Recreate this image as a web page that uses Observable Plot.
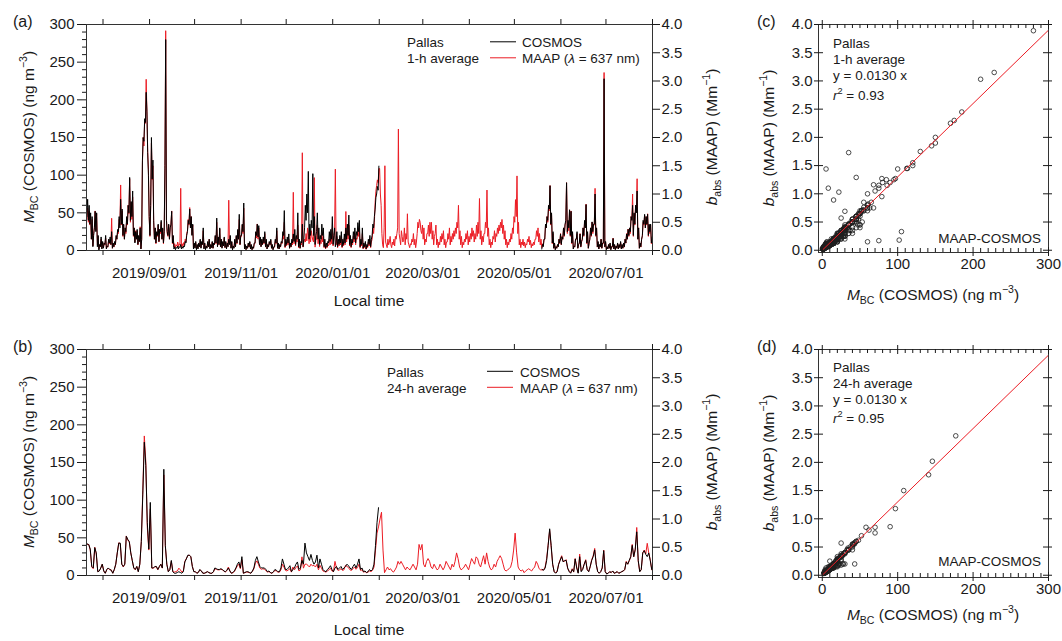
<!DOCTYPE html>
<html><head><meta charset="utf-8">
<script src="https://cdn.jsdelivr.net/npm/d3@7"></script>
<script src="https://cdn.jsdelivr.net/npm/@observablehq/plot@0.6"></script>
<style>
body{margin:0;background:#fff;}
#wrap{position:relative;width:1062px;height:641px;overflow:hidden;background:#fff;}
#wrap svg{position:absolute;}
</style></head><body><div id="wrap"></div>
<script>
// ---------------- DATA ----------------
const seriesStart = "2019-07-21";
const seriesEnd = "2020-08-01";
const cosmosSeg2Start = "2020-05-19";
const monthTicks = ["2019-08-01","2019-09-01","2019-10-01","2019-11-01","2019-12-01","2020-01-01","2020-02-01","2020-03-01","2020-04-01","2020-05-01","2020-06-01","2020-07-01","2020-08-01"];
const dateLabels = ["2019-09-01","2019-11-01","2020-01-01","2020-03-01","2020-05-01","2020-07-01"];
const mbcTicks = [0,50,100,150,200,250,300];
const mbcMinorTicks = [10,20,30,40,60,70,80,90,110,120,130,140,160,170,180,190,210,220,230,240,260,270,280,290];
const babsTicks = [0,0.5,1,1.5,2,2.5,3,3.5,4];
const scatterXTicks = [0,100,200,300];
const scatterXMinor = [10,20,30,40,50,60,70,80,90,110,120,130,140,150,160,170,180,190,210,220,230,240,250,260,270,280,290];
const babsPerMbc = 4/300;   // right axis 4.0 Mm-1 <-> left axis 300 ng m-3
const fitSlope = 0.0130;
const fitR2 = {h1: "0.93", h24: "0.95"};

// COSMOS 1-h (ng m-3), two values per day, 2019-07-21 .. 2020-01-31
const cosmos1hSeg1 = [
 45,68, 40,60, 35,50, 15,45, 5,20,   30,52, 25,50, 5,20, 0,8, 5,18,
 2,12, 3,10, 8,20, 2,6, 5,15,        10,18, 8,25, 3,10, 5,12, 8,20,
 15,28, 25,45, 30,68, 35,55, 20,35,  15,30, 25,45, 35,60, 50,97, 40,65,
 45,79, 20,30, 10,25, 15,28, 8,20,   12,30, 2,15, 120,150, 145,175, 170,210,
 185,130, 100,45, 20,60, 150,95, 120,40,  15,30, 10,25, 20,35, 12,28, 25,40,
 15,30, 10,25, 113,280, 40,25, 20,35,     15,30, 35,52, 10,20, 2,5, 1,4,
 3,6, 2,5, 4,8, 2,5, 3,6,            5,12, 10,20, 25,40, 35,55, 30,45,
 20,35, 2,10, 3,12, 1,8, 2,10,       5,15, 3,12, 8,30, 2,10, 1,6,
 3,12, 5,15, 2,8, 4,12, 3,10,        8,20, 10,43, 5,18, 8,30, 5,15,
 3,12, 6,18, 4,12, 2,10, 5,15,       8,20, 3,12, 1,6, 3,15, 5,20,
 10,28, 15,48, 8,20, 20,35, 25,63,   2,8, 1,6, 3,10, 5,12, 2,8,
 1,5, 3,10, 10,25, 20,35, 18,33,     8,18, 5,15, 8,18, 10,25, 5,15,
 2,8, 5,12, 8,15, 3,8, 1,5,          5,15, 10,30, 3,10, 2,8, 5,12,
 10,25, 20,53, 5,15, 8,18, 10,22,    3,10, 5,15, 10,22, 12,28, 8,20,
 15,50, 5,15, 3,12, 10,35, 5,15,     30,60, 40,75, 50,105, 15,35, 20,40,
 30,102, 20,45, 8,20, 25,50, 15,30,  8,20, 15,35, 20,30, 5,15, 3,10,
 5,12, 10,25, 12,28, 15,45, 8,20,    30,5, 10,25, 5,15, 8,20, 10,25,
 5,15, 8,22, 10,30, 15,35, 20,47,    8,20, 5,15, 10,25, 15,30, 10,25,
 20,37, 25,40, 5,15, 8,30, 3,10,     5,12, 2,8, 5,15, 8,20, 5,15,
 20,35, 30,45, 55,70, 75,85, 80,112
];
// COSMOS 1-h, 2020-05-19 .. 2020-07-31
const cosmos1hSeg2 = [
 2,8, 5,15, 15,35, 30,45, 40,60, 55,86, 35,50,
 10,25, 3,10, 1,5, 3,8, 5,15,        10,22, 8,18, 15,30, 20,35, 40,90,
 25,40, 30,54, 20,52, 10,25, 2,6,    5,15, 15,25, 3,8, 10,22, 5,12,
 15,30, 20,40, 30,61, 10,25, 3,10,   15,30, 20,38, 25,35, 35,75, 20,30,
 5,12, 2,8, 5,15, 3,10, 10,228,      5,12, 1,5, 2,8, 3,10, 1,5,
 5,16, 2,8, 1,6, 3,10, 2,8,          4,12, 2,8, 3,10, 5,15, 10,22,
 15,28, 20,30, 25,45, 40,60, 20,50,  35,60, 50,79, 15,30, 3,10, 5,15,
 20,40, 35,48, 30,45, 35,48, 20,35,  25,35, 10,18
];
// MAAP 1-h b_abs (Mm-1), two values per day, 2019-07-21 .. 2020-07-31
const maap1h = [
 .55,.75, .5,.7, .45,.6, .2,.55, .08,.3,     .4,.7, .35,.65, .1,.25, .03,.1, .07,.2,
 .04,.15, .05,.12, .1,.22, .03,.08, .06,.18, .12,.2, .1,.57, .04,.12, .06,.15, .1,.25,
 .2,.35, .3,.55, .45,1.16, .45,.7, .25,.45,  .2,.4, .3,.55, .45,.8, .65,1.27, .5,.85,
 .55,.95, .25,.4, .15,.35, .2,.35, .1,.25,   .15,.42, .03,.2, 1.55,2.0, 1.85,2.3, 2.25,3.03,
 2.45,1.75, 1.44,.6, .25,.75, 1.9,1.25, 1.5,.5,  .2,.4, .12,.32, .25,.45, .15,.38, .3,.5,
 .2,.38, .12,.3, 1.45,3.89, .55,.3, .25,.45, .2,.4, .45,.7, .12,.25, .06,.12, .05,.1,
 .08,.15, .07,.12, .1,1.1, .06,.12, .07,.14, .1,.2, .15,.3, .35,.55, .45,.76, .4,.6,
 .28,.45, .03,.12, .05,.14, .03,.1, .04,.12, .07,.18, .05,.15, .1,.35, .04,.12, .03,.08,
 .05,.15, .07,.2, .04,.1, .05,.15, .04,.12,  .1,.25, .12,.5, .07,.22, .1,.38, .07,.2,
 .05,.15, .08,.22, .05,.15, .04,.12, .07,.89, .1,.25, .05,.15, .02,.08, .05,.18, .07,.25,
 .12,.35, .2,.55, .1,.25, .25,.45, .3,.75,   .03,.1, .02,.08, .04,.12, .06,.15, .03,.1,
 .02,.06, .04,.12, .12,.32, .22,.47, .2,.4,  .1,.22, .07,.18, .1,.2, .12,.3, .06,.18,
 .03,.1, .06,.15, .1,.18, .04,.1, .02,.06,   .06,.18, .12,.35, .04,.12, .03,.1, .06,.15,
 .12,.3, .2,.5, .05,.15, .08,.18, .1,.2,     .04,.1, .06,.15, .1,1.03, .12,.25, .08,.2,
 .15,.45, .05,.15, .04,.12, .1,1.73, .06,.15, .2,.15, .3,.17, .4,.33, .12,.3, .15,.35,
 .25,.18, .15,1.29, .06,.18, .2,.45, .12,.25, .07,.18, .12,.3, .15,.25, .05,.12, .03,.08,
 .05,.1, .08,.2, .1,.25, .12,.4, .08,.2,     .35,1.44, .1,.25, .05,.15, .08,.2, .1,.25,
 .05,.15, .08,.22, .1,.69, .15,.35, .2,.45,  .08,.2, .05,.15, .1,.25, .15,.3, .1,.22,
 .2,.35, .25,.4, .05,.12, .08,.3, .03,.1,    .05,.12, .02,.08, .05,.15, .08,.2, .05,.15,
 .2,.4, .3,.5, .85,1.05, 1.15,1.25, 1.2,1.45, 1.45,1.0, .8,.3, .1,.05, .4,1.5, .15,.1,
 .05,.2, .1,.15, .25,.1, .05,.15, .1,.2,     .08,.25, .2,.3, .4,2.15, .3,.2, .1,.35,
 .25,.15, .2,.4, .1,.3, .2,.65, .15,.1,      .05,.12, .1,.2, .15,.3, .1,.2, .05,.15,
 .3,.5, .4,.55, .5,.35, .3,.45, .2,.4,       .1,.2, .15,.3, .3,.45, .25,.5, .3,.5,
 .2,.35, .1,.25, .3,.45, .1,.2, .05,.15,     .1,.25, .15,.3, .2,.35, .1,.2, .05,.15,
 .15,.3, .2,.4, .1,.25, .15,.3, .2,.35,      .25,.4, .3,.5, .4,.8, .2,.35, .1,.25,
 .05,.15, .1,.2, .15,.3, .2,.35, .1,.25,     .15,.3, .2,.4, .25,.35, .15,.3, .2,.45,
 .25,.5, .3,.92, .2,.35, .1,.25, .15,.3,     .3,.5, .4,1.07, .25,.4, .1,.2, .05,.15,
 .1,.25, .2,.35, .15,.3, .25,.4, .3,.45,     .35,.5, .4,.55, .3,.45, .2,.35, .1,.2,
 .05,.15, .1,.2, .15,.3, .2,.4, .3,.6,       .5,.9, .6,1.32, .3,.5, .1,.2, .05,.15,
 .1,.2, .08,.15, .05,.12, .1,.2, .15,.25,    .1,.18, .05,.12, .08,.15, .1,.2, .2,.35,
 .25,.4, .15,.3, .1,.2, .05,.12, .08,.2,     .2,.45, .4,.6, .5,.75, .7,1.15, .45,.65,
 .12,.3, .04,.12, .02,.07, .04,.1, .07,.2,   .12,.3, .1,.25, .2,.4, .25,.45, .5,1.2,
 .3,.5, .35,.72, .25,.7, .12,.3, .03,.08,    .06,.2, .2,.3, .04,.1, .12,.3, .06,.15,
 .2,.4, .25,.5, .4,.82, .12,.3, .04,.12,     .2,.4, .25,.5, .3,.45, .45,1.1, .25,.4,
 .06,.15, .03,.1, .06,.2, .04,.12, .12,3.15, .06,.15, .02,.06, .03,.1, .04,.12, .02,.07,
 .06,.22, .03,.1, .02,.08, .04,.12, .03,.1,  .05,.15, .03,.1, .04,.12, .06,.2, .13,.3,
 .2,.38, .25,.4, .3,.6, .55,1.0, .25,.65,    .45,.8, .7,1.27, .2,.4, .04,.12, .06,.2,
 .25,.5, .45,.62, .4,.6, .45,.65, .25,.45,   .3,.45, .12,.2
];
// COSMOS 24-h (ng m-3), daily, 2019-07-21 .. 2020-01-31
const cosmos24hSeg1 = [
 42,41,35,12,10,37,30,5,6,10,  15,6,3,8,10,8,7,3,8,15,  30,43,43,15,12,15,52,48,45,30,
 20,10,8,12,5,15,45,108,177,146,  70,35,97,10,10,12,12,8,12,15,  10,141,40,15,5,8,20,5,3,3,
 4,5,4,3,5,18,22,27,27,25,  12,5,5,3,4,8,6,3,3,4,  5,4,3,3,5,10,9,8,8,9,
 8,6,5,7,10,6,3,4,6,10,  15,18,10,25,3,4,5,5,4,3,  6,10,20,25,18,12,10,10,10,8,
 5,6,4,3,5,8,7,5,5,10,  22,15,8,8,10,13,5,8,10,15,  18,8,10,20,15,43,30,25,20,28,
 20,15,18,27,10,22,15,8,6,5,  8,10,13,8,5,10,12,8,10,12,  8,10,12,15,13,10,8,12,15,10,
 15,22,8,10,5,6,4,5,8,6,  8,15,40,70,90
];
// COSMOS 24-h, 2020-05-19 .. 2020-07-31
const cosmos24hSeg2 = [
 8,7,10,20,40,62,40,  15,5,3,5,15,20,25,18,20,20,  10,5,3,8,5,22,10,3,25,5,
 8,15,20,8,5,12,20,25,34,15,  5,3,5,10,33,5,2,3,5,4,  6,3,4,5,3,4,5,6,8,18,
 15,20,25,40,25,35,58,20,5,8,  30,33,28,25,30,20,8
];
// MAAP 24-h b_abs (Mm-1), daily, 2019-07-21 .. 2020-07-31
const maap24h = [
 .55,.55,.45,.15,.12,.5,.38,.07,.08,.13,  .2,.08,.04,.1,.13,.1,.1,.04,.1,.2,
 .4,.58,.56,.2,.15,.2,.7,.62,.6,.4,  .26,.13,.1,.16,.07,.2,.6,1.5,2.47,2.02,
 .85,.45,1.18,.13,.13,.15,.16,.1,.15,.2,  .13,1.78,.52,.2,.07,.1,.25,.07,.06,.07,
 .08,.13,.1,.06,.08,.25,.3,.35,.36,.33,  .16,.07,.07,.04,.06,.1,.08,.04,.04,.05,
 .07,.05,.04,.04,.06,.12,.11,.1,.1,.11,  .1,.08,.06,.09,.15,.08,.04,.05,.07,.12,
 .17,.2,.12,.28,.04,.05,.06,.06,.05,.04,  .07,.12,.22,.26,.2,.13,.11,.12,.11,.09,
 .06,.07,.05,.04,.06,.09,.08,.06,.06,.1,  .2,.15,.09,.08,.1,.12,.06,.15,.1,.14,
 .17,.08,.1,.33,.13,.2,.2,.18,.15,.2,  .17,.18,.15,.2,.1,.18,.13,.08,.07,.06,
 .08,.1,.13,.08,.07,.25,.13,.09,.1,.12,  .09,.1,.18,.16,.14,.1,.09,.12,.15,.11,
 .14,.2,.09,.1,.06,.07,.05,.06,.08,.07,  .09,.15,.45,.75,.86,1.0,1.12,.45,.05,.1,
 .15,.1,.12,.08,.06,.1,.15,.25,.2,.25,  .2,.15,.1,.15,.12,.1,.15,.2,.15,.1,
 .2,.55,.45,.55,.2,.15,.25,.3,.25,.15,  .12,.2,.15,.1,.12,.2,.15,.1,.15,.25,
 .2,.15,.1,.2,.15,.25,.4,.3,.15,.1,  .12,.15,.2,.15,.1,.2,.3,.25,.2,.33,
 .3,.2,.15,.25,.35,.2,.4,.25,.15,.1,  .12,.2,.15,.25,.3,.35,.3,.2,.1,.08,
 .1,.12,.15,.25,.45,.75,.4,.15,.1,.08,  .1,.05,.08,.1,.12,.1,.08,.12,.15,.25,
 .2,.12,.1,.1,.1,.15,.3,.55,.8,.5,  .2,.07,.05,.08,.2,.28,.35,.25,.25,.28,
 .12,.08,.05,.12,.06,.3,.15,.05,.38,.08,  .12,.2,.28,.1,.07,.15,.28,.35,.48,.2,
 .07,.04,.07,.13,.45,.07,.03,.04,.07,.05,  .08,.04,.05,.07,.04,.05,.07,.08,.1,.25,
 .2,.26,.32,.55,.33,.45,.85,.25,.07,.1,  .4,.45,.38,.57,.4,.28,.1
];

// ---------------- BUILD ----------------
const FONT = '"Liberation Sans", Arial, Helvetica, sans-serif';
const INK = "#1a1a1a";
const RED = "#ec1c24";
const DAY = 864e5;
const t0 = Date.parse(seriesStart);
const xDomain = [new Date(seriesStart), new Date(seriesEnd)];
const toDate = s => new Date(s);

function halfDayRows(values, startISO, seg) {
  const s = Date.parse(startISO), k0 = Math.round((s - t0) / DAY) * 2;
  return values.map((v, i) => ({t: new Date(s + (i + 0.5) * DAY / 2), v, seg, k: k0 + i}));
}
function dayRows(values, startISO, seg) {
  const s = Date.parse(startISO), k0 = Math.round((s - t0) / DAY);
  return values.map((v, i) => ({t: new Date(s + (i + 0.5) * DAY), v, seg, k: k0 + i}));
}
const c1h = [...halfDayRows(cosmos1hSeg1, seriesStart, 1), ...halfDayRows(cosmos1hSeg2, cosmosSeg2Start, 2)];
const m1h = halfDayRows(maap1h, seriesStart, 0);
const c24 = [...dayRows(cosmos24hSeg1, seriesStart, 1), ...dayRows(cosmos24hSeg2, cosmosSeg2Start, 2)];
const m24 = dayRows(maap24h, seriesStart, 0);
function pairs(cRows, mRows) {
  const mm = new Map(mRows.map(d => [d.k, d.v]));
  return cRows.filter(d => d.v != null && mm.get(d.k) != null).map(d => ({c: d.v, m: mm.get(d.k)}));
}

function rich(svg, x, y, parts, {size = 15, anchor = "start", rotate = 0} = {}) {
  const t = d3.select(svg).append("text")
    .attr("transform", `translate(${x},${y})` + (rotate ? ` rotate(${rotate})` : ""))
    .attr("text-anchor", anchor).attr("font-size", size).attr("fill", INK)
    .attr("font-family", FONT);
  let shift = 0;
  for (const p of parts) {
    const [s, kind] = Array.isArray(p) ? p : [p, ""];
    const target = kind === "sub" ? 0.28 * size : kind === "sup" ? -0.45 * size : 0;
    const ts = t.append("tspan").text(s).attr("dy", target - shift);
    shift = target;
    if (kind === "i") ts.attr("font-style", "italic");
    if (kind === "sub" || kind === "sup") ts.attr("font-size", size * 0.68);
  }
}
function hline(svg, x1, x2, y, color) {
  d3.select(svg).append("line").attr("x1", x1).attr("x2", x2).attr("y1", y).attr("y2", y)
    .attr("stroke", color).attr("stroke-width", 1);
}
const mbcTitle = [["M","i"],["BC","sub"]," (COSMOS) (ng m",["−3","sup"],")"];
const babsTitle = [["b","i"],["abs","sub"]," (MAAP) (Mm",["−1","sup"],")"];

function tsPanel({cosmos, maap, height, left, top, label, avgLabel, leg, timeY}) {
  const FH = 226, FW = 566;
  const svg = Plot.plot({
    width: 740, height, marginLeft: 86, marginRight: 88, marginTop: 24, marginBottom: height - 24 - FH,
    style: {fontFamily: FONT, fontSize: "15px", background: "transparent", color: INK, overflow: "visible"},
    x: {type: "utc", domain: xDomain, axis: null},
    y: {domain: [0, 300], axis: null},
    marks: [
      Plot.line(maap, {x: "t", y: d => d.v == null ? NaN : d.v / babsPerMbc, stroke: RED, strokeWidth: 1}),
      Plot.line(cosmos, {x: "t", y: "v", z: "seg", stroke: "#000", strokeWidth: 1}),
      Plot.frame({stroke: "#333", strokeWidth: 1}),
      Plot.ruleX(monthTicks.map(toDate), {stroke: INK, insetTop: FH, insetBottom: -5}),
      Plot.ruleX(monthTicks.map(toDate), {stroke: INK, insetTop: -5, insetBottom: FH}),
      Plot.ruleY(mbcTicks, {stroke: INK, insetLeft: -9, insetRight: FW}),
      Plot.ruleY(mbcMinorTicks, {stroke: INK, insetLeft: -4, insetRight: FW}),
      Plot.ruleY(babsTicks.map(v => v / babsPerMbc), {stroke: INK, insetLeft: FW, insetRight: -8}),
      Plot.axisX({ticks: dateLabels.map(toDate), tickSize: 0, tickPadding: 17, tickFormat: d3.utcFormat("%Y/%m/%d"), label: null}),
      Plot.axisY({anchor: "left", ticks: mbcTicks, tickSize: 0, tickPadding: 12, label: null}),
      Plot.axisY({anchor: "right", ticks: babsTicks.map(v => v / babsPerMbc), tickSize: 0, tickPadding: 9,
        tickFormat: d => (d * babsPerMbc).toFixed(1), label: null})
    ]
  });
  svg.style.left = left + "px"; svg.style.top = top + "px";
  rich(svg, 13, 27, [label], {size: 16});
  rich(svg, 33.5, 137, mbcTitle, {size: 15.5, anchor: "middle", rotate: -90});
  rich(svg, 717, 137, babsTitle, {size: 15.5, anchor: "middle", rotate: -90});
  rich(svg, 369, timeY, ["Local time"], {size: 15.5, anchor: "middle"});
  rich(svg, leg.tx, leg.y, ["Pallas"], {size: 13.5});
  rich(svg, leg.tx, leg.y + 16, [avgLabel], {size: 13.5});
  hline(svg, leg.lx1, leg.lx2, leg.y - 5.2, "#000");
  hline(svg, leg.lx1, leg.lx2, leg.y + 10.8, RED);
  rich(svg, leg.sx, leg.y, ["COSMOS"], {size: 13.5});
  rich(svg, leg.sx, leg.y + 16, ["MAAP (", ["λ", "i"], " = 637 nm)"], {size: 13.5});
  return svg;
}

function scatterPanel({data, height, left, top, label, avgLabel, r2, ann, titleY, r}) {
  const FH = 228, FW = 230;
  const svg = Plot.plot({
    width: 322, height, marginLeft: 78, marginRight: 14, marginTop: 24, marginBottom: height - 24 - FH,
    style: {fontFamily: FONT, fontSize: "15px", background: "transparent", color: INK, overflow: "visible"},
    x: {domain: [-5, 300], axis: null},
    y: {domain: [-0.04, 4.0], axis: null},
    marks: [
      Plot.dot(data, {x: "c", y: "m", r, stroke: "#1e1e1e", strokeWidth: 0.8, fill: "none"}),
      Plot.line([0, 300], {x: d => d, y: d => d * fitSlope, stroke: RED, strokeWidth: 1}),
      Plot.frame({stroke: "#333", strokeWidth: 1}),
      Plot.ruleX(scatterXMinor, {stroke: INK, insetTop: FH - 4, insetBottom: 0}),
      Plot.ruleX(scatterXMinor, {stroke: INK, insetTop: 0, insetBottom: FH - 4}),
      Plot.ruleX(scatterXTicks, {stroke: INK, insetTop: FH - 5, insetBottom: -4}),
      Plot.ruleX(scatterXTicks, {stroke: INK, insetTop: -4, insetBottom: FH - 5}),
      Plot.ruleY(babsTicks, {stroke: INK, insetLeft: -4, insetRight: FW - 5}),
      Plot.ruleY(babsTicks, {stroke: INK, insetLeft: FW - 5, insetRight: -4}),
      Plot.axisX({ticks: scatterXTicks, tickSize: 0, tickPadding: 6, label: null}),
      Plot.axisY({ticks: babsTicks, tickSize: 0, tickPadding: 6, tickFormat: d => d.toFixed(1), label: null})
    ]
  });
  svg.style.left = left + "px"; svg.style.top = top + "px";
  rich(svg, 17, 27, [label], {size: 16});
  rich(svg, 34, 138, babsTitle, {size: 15.5, anchor: "middle", rotate: -90});
  rich(svg, 193, titleY, mbcTitle, {size: 15.5, anchor: "middle"});
  rich(svg, 93, ann[0], ["Pallas"], {size: 13.5});
  rich(svg, 93, ann[1], [avgLabel], {size: 13.5});
  rich(svg, 93, ann[2], [`y = ${fitSlope.toFixed(4)} x`], {size: 13.5});
  rich(svg, 93, ann[3], [["r", "i"], ["2", "sup"], ` = ${r2}`], {size: 13.5});
  rich(svg, 301, ann[4], ["MAAP-COSMOS"], {size: 13.5, anchor: "end"});
  return svg;
}

const wrap = document.getElementById("wrap");
wrap.append(
  tsPanel({cosmos: c1h, maap: m1h, height: 320, left: 0, top: 0, label: "(a)", avgLabel: "1-h average",
    leg: {tx: 407, y: 47, lx1: 490, lx2: 516, sx: 522}, timeY: 306}),
  tsPanel({cosmos: c24, maap: m24, height: 316, left: 0, top: 325, label: "(b)", avgLabel: "24-h average",
    leg: {tx: 387, y: 51.5, lx1: 487, lx2: 513, sx: 520}, timeY: 310}),
  scatterPanel({data: pairs(c1h, m1h), height: 320, left: 740, top: 0, label: "(c)", avgLabel: "1-h average",
    r2: fitR2.h1, ann: [47.5, 63.5, 80, 100, 243], titleY: 300, r: 2.3}),
  scatterPanel({data: pairs(c24, m24), height: 316, left: 740, top: 325, label: "(d)", avgLabel: "24-h average",
    r2: fitR2.h24, ann: [46.5, 62.5, 79, 98, 241], titleY: 295, r: 2.3})
);
</script></body></html>
